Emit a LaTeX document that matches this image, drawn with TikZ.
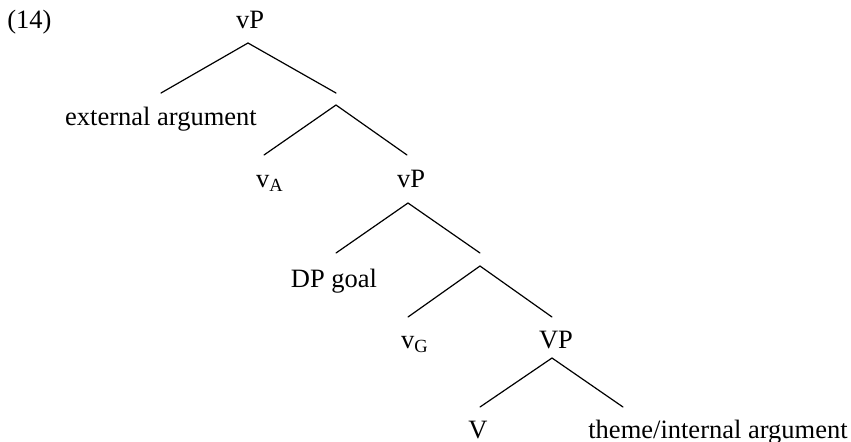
\documentclass[tikz,border=0pt]{standalone}
\usepackage{fontspec}
\setmainfont{Liberation Serif}
\begin{document}
\begin{tikzpicture}[x=0.5pt,y=-0.5pt,
  lbl/.style={anchor=base,inner sep=0pt,font=\fontsize{13.25}{15}\selectfont},
  branch/.style={line width=0.6pt,line cap=round}]
\useasboundingbox (0,0) rectangle (851,441);
% labels
\node[lbl,anchor=base west] (ex) at (7,28) {(14)};
\node[lbl] (vp1) at (250,28) {vP};
\node[lbl] (ext) at (161,125) {external argument};
\node[lbl] (va) at (270,187) {v\textsubscript{A}};
\node[lbl] (vp2) at (411,187) {vP};
\node[lbl] (dp) at (334,287) {DP goal};
\node[lbl] (vg) at (415,348) {v\textsubscript{G}};
\node[lbl] (VP) at (556,348) {VP};
\node[lbl] (V) at (478,438.5) {V};
\node[lbl] (th) at (718,438.5) {theme/internal argument};
% branch points
\coordinate (a1) at (248,43);
\coordinate (a1l) at (161,93);
\coordinate (a1r) at (336,93);
\coordinate (a2) at (336,105);
\coordinate (a2l) at (264,155);
\coordinate (a2r) at (407,155);
\coordinate (a3) at (408,203);
\coordinate (a3l) at (336,253);
\coordinate (a3r) at (480,253);
\coordinate (a4) at (480,266);
\coordinate (a4l) at (408,317);
\coordinate (a4r) at (552,317);
\coordinate (a5) at (552,358);
\coordinate (a5l) at (480,407);
\coordinate (a5r) at (623,407);
% connectors
\draw[branch] (a1l) -- (a1) -- (a1r);
\draw[branch] (a2l) -- (a2) -- (a2r);
\draw[branch] (a3l) -- (a3) -- (a3r);
\draw[branch] (a4l) -- (a4) -- (a4r);
\draw[branch] (a5l) -- (a5) -- (a5r);
\end{tikzpicture}
\end{document}
